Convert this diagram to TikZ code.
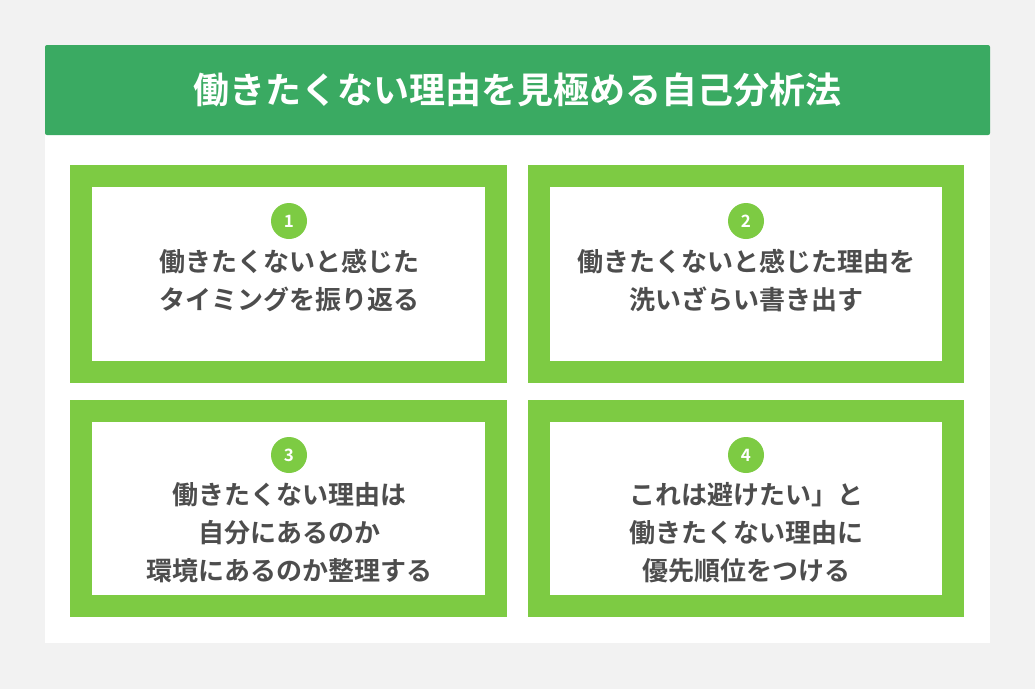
\documentclass[tikz,border=0pt]{standalone}
\usepackage{fontspec}
\usetikzlibrary{positioning}
\newfontfamily\jpfont{Noto Sans CJK JP}[BoldFont={Noto Sans CJK JP Bold}]
\definecolor{bgray}{HTML}{F2F2F2}
\definecolor{hgreen}{HTML}{3AAA62}
\definecolor{bgreen}{HTML}{7DCB43}
\definecolor{tgray}{HTML}{4D4D4D}
\begin{document}
\begin{tikzpicture}[x=1pt,y=-1pt,
  card/.style={draw=bgreen, line width=22pt, fill=white},
  num/.style={circle, fill=bgreen, minimum size=36pt, inner sep=0pt, text=white, font=\jpfont\bfseries\fontsize{17}{17}\selectfont},
  steptext/.style={align=center, text=tgray, font=\jpfont\bfseries\fontsize{26}{38}\selectfont}
]
\useasboundingbox (0,0) rectangle (1035,689);
\fill[bgray] (0,0) rectangle (1035,689);
\fill[white] (45,135) rectangle (990,643);
\fill[hgreen, rounded corners=2pt] (45,45) rectangle (990,135);
\node[text=white, font=\jpfont\bfseries\fontsize{36}{36}\selectfont] (title) at (517.5,90) {働きたくない理由を見極める自己分析法};
% cards
\draw[card] (81,176) rectangle (496,372);
\draw[card] (539,176) rectangle (953,372);
\draw[card] (81,411) rectangle (496,606);
\draw[card] (539,411) rectangle (953,606);
\node[num] (n1) at (289,221) {1};
\node[num] (n2) at (746,221) {2};
\node[num] (n3) at (289,455) {3};
\node[num] (n4) at (746,455) {4};
\node[steptext, below=6pt of n1] (t1) {働きたくないと感じた\\タイミングを振り返る};
\node[steptext, below=6pt of n2] (t2) {働きたくないと感じた理由を\\洗いざらい書き出す};
\node[steptext, below=6pt of n3] (t3) {働きたくない理由は\\自分にあるのか\\環境にあるのか整理する};
\node[steptext, below=6pt of n4] (t4) {これは避けたい」と\\働きたくない理由に\\優先順位をつける};
\end{tikzpicture}
\end{document}
